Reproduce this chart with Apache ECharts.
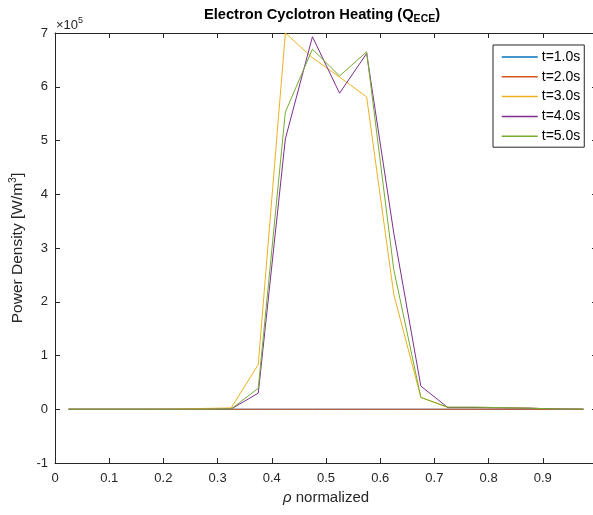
<!DOCTYPE html>
<html>
<head>
<meta charset="utf-8">
<script src="https://cdn.jsdelivr.net/npm/echarts@6/dist/echarts.min.js"></script>
<style>html,body{margin:0;padding:0;background:#fff;}#c{width:593px;height:515px;}</style>
</head>
<body>
<div id="c"></div>
<script>
// rho (normalized) grid
const rho = [0.025,0.075,0.125,0.175,0.225,0.275,0.325,0.375,0.425,0.475,0.525,0.575,0.625,0.675,0.725,0.775,0.825,0.875,0.925,0.975];
// Power density [W/m^3]
const q_t1 = [0,0,0,0,0,0,0,0,0,0,0,0,0,0,0,0,0,0,0,0];
const q_t2 = [0,0,0,0,0,0,0,0,0,0,0,0,0,0,0,0,0,0,0,0];
const q_t3 = [0,0,0,0,500,1500,2500,83000,700000,654000,618000,581000,214000,22000,3000,3000,2500,2000,500,0];
const q_t4 = [0,0,0,0,0,0,500,30000,503000,693000,588000,662000,328000,43000,3000,3000,2500,2000,500,0];
const q_t5 = [0,0,0,0,0,0,500,39000,553000,670000,620000,665000,260000,22000,4000,4000,3000,2000,500,0];
const seriesNames = ['t=1.0s','t=2.0s','t=3.0s','t=4.0s','t=5.0s'];
const seriesData = [q_t1,q_t2,q_t3,q_t4,q_t5];
const colors = ['#0072BD','#D95319','#EDB120','#7E2F8E','#77AC30'];
const xTicks = {min:0, max:1, interval:0.1};
const yTicks = {min:-100000, max:700000, interval:100000};

const FONT = 'Liberation Sans, Arial, Helvetica, sans-serif';
const AX = '#262626';
const chart = echarts.init(document.getElementById('c'), null, {renderer:'canvas'});

const axisCommon = {
  axisLine:{show:true,onZero:false,lineStyle:{color:AX,width:1}},
  axisTick:{show:true,inside:true,length:5,lineStyle:{color:AX,width:1}},
  splitLine:{show:false}
};

chart.setOption({
  animation:false,
  backgroundColor:'#fff',
  color:colors,
  title:{
    text:'{b|Electron Cyclotron Heating (Q}{s|ECE}{b|)}',
    left:317, top:-1, textAlign:'center',
    textStyle:{rich:{
      b:{fontFamily:FONT,fontWeight:'bold',fontSize:14.7,color:'#000',lineHeight:20,verticalAlign:'middle'},
      s:{fontFamily:FONT,fontWeight:'bold',fontSize:10.5,color:'#000',padding:[10,0,0,0],verticalAlign:'middle'}
    }}
  },
  grid:{left:55, top:33, width:542, height:430, containLabel:false, outerBoundsMode:'none'},
  legend:{
    orient:'vertical', left:493, top:45,
    padding:[5,4,4,8],
    itemWidth:36, itemHeight:14, itemGap:5.8,
    borderColor:AX, borderWidth:1, backgroundColor:'#fff',
    itemStyle:{opacity:0},
    lineStyle:{width:1.5},
    textStyle:{fontFamily:FONT,fontSize:14,color:'#000',lineHeight:14,padding:[0,0,0,-1]},
    data:seriesNames
  },
  xAxis:[
    Object.assign({type:'value',position:'bottom',min:xTicks.min,max:xTicks.max,interval:xTicks.interval,
      name:'{i|ρ} normalized', nameLocation:'middle', nameGap:27,
      nameTextStyle:{fontFamily:FONT,fontSize:15,color:AX,rich:{i:{fontFamily:FONT,fontSize:15,fontStyle:'italic',color:AX}}},
      axisLabel:{fontFamily:FONT,fontSize:13,color:AX,margin:9,formatter:v=>String(+v.toFixed(1))}}, axisCommon),
    Object.assign({type:'value',position:'top',min:xTicks.min,max:xTicks.max,interval:xTicks.interval,
      axisLabel:{show:false}}, axisCommon)
  ],
  yAxis:[
    Object.assign({type:'value',position:'left',min:yTicks.min,max:yTicks.max,interval:yTicks.interval,
      name:'Power Density [W/m{sup|3}]', nameLocation:'middle', nameGap:25, nameRotate:90,
      nameTextStyle:{fontFamily:FONT,fontSize:15.5,color:AX,rich:{sup:{fontFamily:FONT,fontSize:10.5,color:AX,padding:[0,0,9,0]}}},
      axisLabel:{fontFamily:FONT,fontSize:13,color:AX,margin:7,formatter:v=>String(Math.round(v/100000))}}, axisCommon),
    Object.assign({type:'value',position:'right',min:yTicks.min,max:yTicks.max,interval:yTicks.interval,
      axisLabel:{show:false}}, axisCommon)
  ],
  graphic:[{
    type:'text', left:56, top:16,
    style:{text:'{m|×10}{e|5}', rich:{
      m:{fontFamily:FONT,fontSize:13,fill:AX,verticalAlign:'bottom'},
      e:{fontFamily:FONT,fontSize:9,fill:AX,padding:[0,0,7,0],verticalAlign:'bottom'}
    }}
  }],
  series:seriesNames.map((n,i)=>({
    name:n, type:'line', xAxisIndex:0, yAxisIndex:0,
    data:rho.map((x,j)=>[x,seriesData[i][j]]),
    symbol:'none', lineStyle:{width:1,color:colors[i]}, itemStyle:{color:colors[i]}, z:2+i
  }))
});
</script>
</body>
</html>
